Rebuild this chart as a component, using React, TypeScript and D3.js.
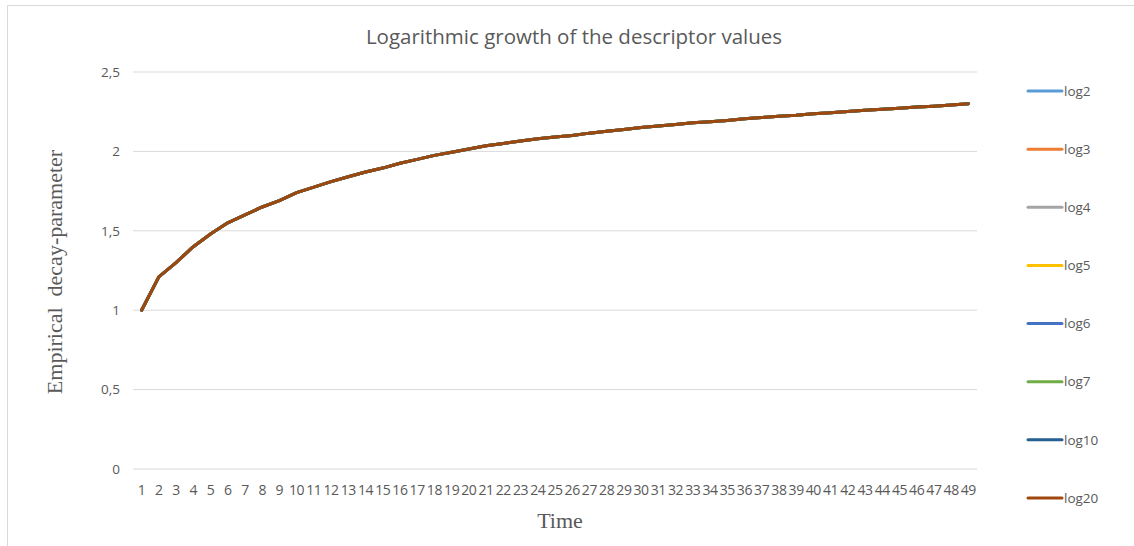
import React from "react";
import * as d3 from "d3";

const times: number[] = Array.from({ length: 49 }, (_, i) => i + 1);
const xTickLabels: string[] = times.map(String);
const yTicks: number[] = [0, 0.5, 1, 1.5, 2, 2.5];
const yTickLabels: string[] = ["0", "0,5", "1", "1,5", "2", "2,5"];

const decayValues: number[] = [
  1.0, 1.21, 1.3, 1.4, 1.48, 1.55, 1.6, 1.65, 1.69, 1.74,
  1.775, 1.81, 1.84, 1.87, 1.895, 1.925, 1.95, 1.975, 1.995, 2.015,
  2.035, 2.05, 2.065, 2.08, 2.09, 2.1, 2.115, 2.127, 2.138, 2.15,
  2.16, 2.17, 2.18, 2.187, 2.195, 2.205, 2.213, 2.222, 2.228, 2.237,
  2.244, 2.252, 2.259, 2.265, 2.271, 2.279, 2.285, 2.292, 2.3,
];

const seriesNames: string[] = ["log2", "log3", "log4", "log5", "log6", "log7", "log10", "log20"];
const seriesColors: string[] = ["#5B9BD5", "#ED7D31", "#A5A5A5", "#FFC000", "#4472C4", "#70AD47", "#255E91", "#9E480E"];
const seriesValues: number[][] = seriesNames.map(() => decayValues);

export default function App() {
  const W = 1134, H = 546;
  const left = 133, right = 977, top = 72, bottom = 469;
  const x = d3.scaleBand<string>().domain(xTickLabels).range([left, right]);
  const y = d3.scaleLinear().domain([0, 2.5]).range([bottom, top]);
  const line = d3
    .line<number>()
    .x((_, i) => (x(xTickLabels[i]) as number) + x.bandwidth() / 2)
    .y((d) => y(d));
  const textColor = "#595959";
  const sans = "'Open Sans', 'Noto Sans', sans-serif";
  const serif = "'Liberation Serif', 'DejaVu Serif', serif";
  const legendY = d3.scalePoint<string>().domain(seriesNames).range([91, 498]);

  return (
    <svg width={W} height={H} style={{ position: "absolute", left: 0, top: 0, background: "#fff" }}>
      <rect x={7.5} y={5.5} width={1140} height={560} fill="#fff" stroke="#d9d9d9" strokeWidth={1} />
      <text x={574} y={44} textAnchor="middle" fontFamily={sans} fontSize={20.5} fill={textColor}>
        Logarithmic growth of the descriptor values
      </text>
      {yTicks.map((t, i) => (
        <g key={t}>
          <line x1={left} x2={right} y1={y(t)} y2={y(t)} stroke="#d9d9d9" strokeWidth={1} />
          <text x={120} y={y(t)} dy="0.35em" textAnchor="end" fontFamily={sans} fontSize={13.5} fill={textColor}>
            {yTickLabels[i]}
          </text>
        </g>
      ))}
      {xTickLabels.map((lbl) => (
        <text
          key={lbl}
          x={(x(lbl) as number) + x.bandwidth() / 2}
          y={495}
          textAnchor="middle"
          fontFamily={sans}
          fontSize={14}
          letterSpacing={-0.4}
          fill={textColor}
        >
          {lbl}
        </text>
      ))}
      {seriesValues.map((vals, i) => (
        <path
          key={seriesNames[i]}
          d={line(vals) as string}
          fill="none"
          stroke={seriesColors[i]}
          strokeWidth={3}
          strokeLinejoin="round"
          strokeLinecap="round"
        />
      ))}
      <text
        transform={`translate(62, 272) rotate(-90)`}
        textAnchor="middle"
        fontFamily={serif}
        fontSize={22}
        fill={textColor}
        style={{ whiteSpace: "pre" }}
      >
        {"Empirical  decay-parameter"}
      </text>
      <text x={560} y={528} textAnchor="middle" fontFamily={serif} fontSize={22} fill={textColor}>
        Time
      </text>
      {seriesNames.map((name, i) => (
        <g key={name}>
          <line
            x1={1028}
            x2={1062}
            y1={legendY(name) as number}
            y2={legendY(name) as number}
            stroke={seriesColors[i]}
            strokeWidth={3}
            strokeLinecap="round"
          />
          <text x={1064} y={legendY(name) as number} dy="0.35em" fontFamily={sans} fontSize={13.5} fill={textColor}>
            {name}
          </text>
        </g>
      ))}
    </svg>
  );
}
